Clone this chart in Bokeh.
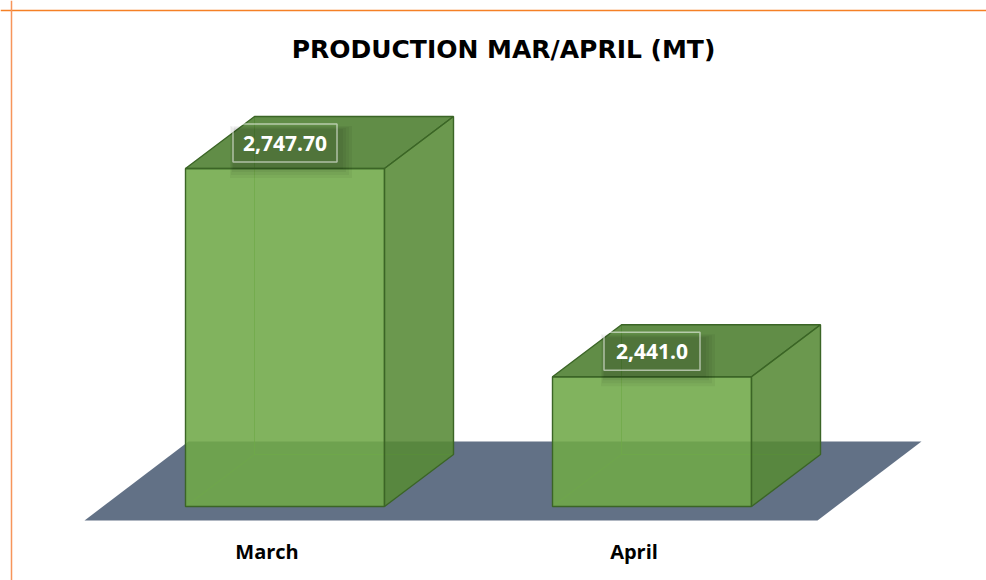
from bokeh.plotting import figure
from bokeh.models import Range1d, Span
from bokeh.core.properties import value
from bokeh.embed import file_html
from bokeh.resources import INLINE

# ---- data ----
categories = ["March", "April"]
production = [2747.70, 2441.0]
value_labels = ["2,747.70", "2,441.0"]
title_text = "PRODUCTION MAR/APRIL (MT)"

# ---- geometry / style constants ----
W, H = 986, 580
BASE = 2250.0            # value at the floor level of the bars
PX_PER_CAT = 367.0       # pixels per category step
PX_PER_VAL = 0.6791      # pixels per value unit
BASE_PX_FROM_TOP = 506.0
FIRST_CAT_PX = 284.5

def px_x(d):
    return d / PX_PER_CAT

def px_y(d):
    return d / PX_PER_VAL

x_start = -px_x(FIRST_CAT_PX)
x_end = x_start + px_x(W)
y_top = BASE + px_y(BASE_PX_FROM_TOP)
y_bottom = BASE - px_y(H - BASE_PX_FROM_TOP)

p = figure(width=W, height=H, output_backend="svg", toolbar_location=None,
           x_range=Range1d(x_start, x_end), y_range=Range1d(y_bottom, y_top),
           x_axis_location=None, y_axis_location=None, min_border=0,
           outline_line_color=None, background_fill_color="white",
           border_fill_color="white")
p.grid.visible = False

n = len(categories)
HALF = px_x(99.5)
DX = px_x(69)
DY = px_y(52)

# floor
f_front = BASE - px_y(14)
f_back = BASE + px_y(65)
f_left = 0 - px_x(200.5)
f_right = (n - 1) + px_x(165.5)
f_dx = px_x(104)
p.patch([f_left, f_right, f_right + f_dx, f_left + f_dx],
        [f_front, f_front, f_back, f_back],
        fill_color="#627186", line_color=None)

FRONT = "#70a948"
TOP = "#4b7d2e"
SIDE = "#578a36"
EDGE = "#3b6526"
ALPHA = 0.88

for i, v in enumerate(production):
    l, r = i - HALF, i + HALF
    # hidden edges
    p.multi_line([[l + DX, l + DX], [l + DX, r + DX], [l, l + DX]],
                 [[BASE + DY, v + DY], [BASE + DY, BASE + DY], [BASE, BASE + DY]],
                 line_color="#6aa944", line_alpha=0.7, line_width=1)
    # front
    p.patch([l, r, r, l], [BASE, BASE, v, v], fill_color=FRONT, fill_alpha=ALPHA,
            line_color=EDGE, line_width=1.4)
    # top
    p.patch([l, r, r + DX, l + DX], [v, v, v + DY, v + DY], fill_color=TOP,
            fill_alpha=ALPHA, line_color=EDGE, line_width=1.4)
    # right side
    p.patch([r, r + DX, r + DX, r], [BASE, BASE + DY, v + DY, v], fill_color=SIDE,
            fill_alpha=ALPHA, line_color=EDGE, line_width=1.4)

# data labels
lx = list(range(n))
ly = [v + px_y(25.5) for v in production]
bw = [8 * len(s) + 40 for s in value_labels]
for k in range(4):
    p.rect([x + px_x(3 + k) for x in lx], [y - px_y(6 + k) for y in ly],
           width=[w + 6 + 4 * k for w in bw], height=40 + 4 * k,
           width_units="screen", height_units="screen",
           fill_color="black", fill_alpha=0.045, line_color=None)
p.rect(lx, ly, width=bw, height=38, width_units="screen", height_units="screen",
       fill_color=None, line_color="white", line_alpha=0.55, line_width=1.5)
p.text(lx, ly, text=value_labels, text_font=value("Open Sans"),
       text_font_style="bold", text_font_size="21px", text_color="white",
       text_align="center", text_baseline="middle")

# category labels
p.text([i - px_x(18) for i in range(n)], [BASE - px_y(45)] * n, text=categories,
       text_font=value("Open Sans"), text_font_style="bold",
       text_font_size="20px", text_color="black",
       text_align="center", text_baseline="middle")

# title
p.text([px_x(218.5)], [BASE + px_y(457)], text=[title_text],
       text_font=value("DejaVu Sans"), text_font_style="bold",
       text_font_size="25px", text_color="black",
       text_align="center", text_baseline="middle")

# orange frame lines (top and left)
p.add_layout(Span(location=BASE + px_y(496), dimension="width",
                  line_color="#f58025", line_width=1.5))
p.add_layout(Span(location=px_x(11 - FIRST_CAT_PX), dimension="height",
                  line_color="#f7955a", line_width=1.5))

open("out.html", "w").write(file_html(p, INLINE))
